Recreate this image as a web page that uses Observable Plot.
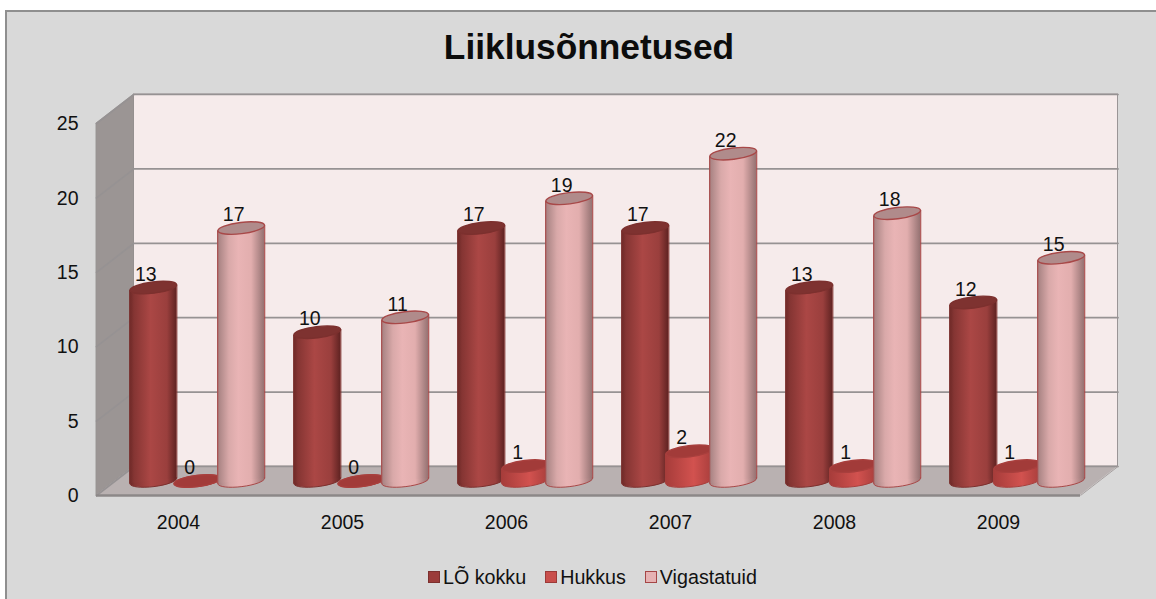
<!DOCTYPE html>
<html lang="et">
<head>
<meta charset="utf-8">
<script src="https://cdn.jsdelivr.net/npm/d3@7"></script>
<script src="https://cdn.jsdelivr.net/npm/@observablehq/plot@0.6"></script>
<style>
  html,body{margin:0;padding:0;background:#fff;width:1156px;height:599px;overflow:hidden;font-family:"Liberation Sans",Arial,sans-serif;color:#111}
  #frame{position:absolute;left:5px;top:10px;width:1151px;height:589px;background:#d9d9d9;border-left:2px solid #8f8f8f;border-top:2px solid #8f8f8f;box-sizing:border-box}
  #title{position:absolute;left:0;top:25px;width:1178px;text-align:center;font-size:35.3px;line-height:44px;font-weight:bold;color:#0c0c0c}
  #chart{position:absolute;left:0;top:70px}
  #legend{position:absolute;left:428px;top:566px;height:22px;display:flex;align-items:center;font-size:19.7px;white-space:nowrap}
  #legend i{display:inline-block;width:10px;height:10px;border:1px solid;margin-right:3px}
  #legend span{display:flex;align-items:center;margin-right:19px}
</style>
</head>
<body>
<div id="frame"></div>
<div id="title">Liiklusõnnetused</div>
<div id="chart"></div>
<div id="legend"></div>
<script>
const years = ["2004","2005","2006","2007","2008","2009"];
const seriesNames = ["LÕ kokku","Hukkus","Vigastatuid"];
const loKokku = [13,10,17,17,13,12];
const hukkus = [0,0,1,2,1,1];
const vigastatuid = [17,11,19,22,18,15];
const yTicks = [0,5,10,15,20,25];

const depthX = 0.2287, depthY = 1.95;     // 3D depth in scale units
const barOffset = [-0.268, 0, 0.268];
const halfW = 0.1433, tiltY = 0.19;
const looks = [
  {grad:"gA", top:"#7e3230", edge:"#7c302e", swatch:"#9b3c3a", sw:"#7c302e"},
  {grad:"gB", top:"#a23b39", edge:"#a83f3d", swatch:"#c94f4c", sw:"#9c3a38"},
  {grad:"gC", top:"#b08b8b", edge:"#a84848", swatch:"#e6b2b3", sw:"#a54646"}
];
const values = [loKokku, hukkus, vigastatuid];
const bars = values.map((vals, s) => vals.map((v, i) => ({
  s, v, year: years[i],
  cx: i + 0.5 + depthX / 2 + barOffset[s],
  base: depthY / 2
})));

function gradient(id, stops) {
  const g = d3.create("svg:linearGradient").attr("id", id);
  stops.forEach(([o, c]) => g.append("stop").attr("offset", o).attr("stop-color", c));
  return g.node();
}
const defs = () => {
  const d = d3.create("svg:defs");
  [["gA",[[0,"#6b2826"],[0.1,"#853533"],[0.45,"#ab4745"],[0.8,"#9a3f3d"],[1,"#602322"]]],
   ["gB",[[0,"#a63c3a"],[0.6,"#d2524f"],[1,"#a83e3c"]]],
   ["gC",[[0,"#a37f7f"],[0.25,"#d9a9a9"],[0.45,"#e9b4b5"],[0.72,"#e2aeae"],[1,"#957272"]]]
  ].forEach(([id, st]) => d.node().appendChild(gradient(id, st)));
  return d.node();
};

// tilted ellipse as a custom dot symbol, sized by the dot radius
const tiltedEllipse = {
  draw(ctx, size) {
    const rx = Math.sqrt(size / Math.PI), ry = rx * 0.24, a = -7 * Math.PI / 180, k = 0.5523;
    const ca = Math.cos(a), sa = Math.sin(a);
    const P = (x, y) => [x * ca - y * sa, x * sa + y * ca];
    const c = (a1, b1, a2, b2, a3, b3) => ctx.bezierCurveTo(...P(a1, b1), ...P(a2, b2), ...P(a3, b3));
    ctx.moveTo(...P(rx, 0));
    c(rx, k * ry, k * rx, ry, 0, ry);
    c(-k * rx, ry, -rx, k * ry, -rx, 0);
    c(-rx, -k * ry, -k * rx, -ry, 0, -ry);
    c(k * rx, -ry, rx, -k * ry, rx, 0);
    ctx.closePath();
  }
};

const radius = 23.5;
function cylinderMarks(rows, look) {
  const outline = rows.flatMap((d, i) => [
    {id: i, x: d.cx - halfW, y1: d.base - tiltY, y2: d.base + d.v - tiltY},
    {id: i, x: d.cx + halfW, y1: d.base + tiltY, y2: d.base + d.v + tiltY}
  ]);
  return [
    Plot.dot(rows, {x:"cx", y:"base", r:radius, symbol:tiltedEllipse, fill:`url(#${look.grad})`, stroke:look.edge, strokeWidth:1}),
    Plot.areaY(outline, {x:"x", y1:"y1", y2:"y2", z:"id", fill:`url(#${look.grad})`}),
    Plot.link(outline, {x1:"x", x2:"x", y1:"y1", y2:"y2", stroke:look.edge, strokeWidth:1.1}),
    Plot.dot(rows, {x:"cx", y:d => d.base + d.v, r:radius, symbol:tiltedEllipse, fill:look.top, stroke:look.edge, strokeWidth:1.4}),
    Plot.text(rows, {x:"cx", y:d => d.base + d.v, text:d => String(d.v), dx:-7.5, dy:-13, fontSize:19.5, fill:"#111"})
  ];
}

const gridLines = yTicks.flatMap(t => [
  {t, x:0, y:t}, {t, x:depthX, y:t + depthY}, {t, x:6 + depthX, y:t + depthY}
]);
const sideWall = [
  {x:0, y1:0, y2:25},
  {x:depthX, y1:depthY, y2:25 + depthY}
];
const floor = [
  {x:0, y1:0, y2:0},
  {x:depthX, y1:0, y2:depthY},
  {x:6, y1:0, y2:depthY},
  {x:6 + depthX, y1:depthY, y2:depthY}
];

const plot = Plot.plot({
  width:1156, height:490,
  marginTop:53, marginBottom:65, marginLeft:96, marginRight:76,
  style:{background:"transparent", fontFamily:"'Liberation Sans',Arial,sans-serif", fontSize:"19.5px", color:"#111"},
  x:{domain:[0,6]},
  y:{domain:[0,25]},
  marks:[
    defs,
    Plot.rect([0], {x1:depthX, x2:6 + depthX, y1:depthY, y2:25 + depthY, fill:"#f6ebeb", stroke:"#9a9596", strokeWidth:1}),
    Plot.areaY(sideWall, {x:"x", y1:"y1", y2:"y2", fill:"#9b9594", stroke:"#8f8a89", strokeWidth:0.5}),
    Plot.areaY(floor, {x:"x", y1:"y1", y2:"y2", fill:"#b9b1b1"}),
    Plot.line(gridLines, {x:"x", y:"y", z:"t", stroke:"#969293", strokeWidth:1.7}),
    Plot.ruleY([0], {x1:0, x2:6, stroke:"#8c8888", strokeWidth:2.5}),
    Plot.link([0], {x1:6, y1:0, x2:6 + depthX, y2:depthY, stroke:"#a8a1a1", strokeWidth:1}),
    Plot.axisY(yTicks, {anchor:"left", tickSize:0, tickPadding:18, label:null, fontSize:19.5, fill:"#111", dy:0.5}),
    Plot.axisX(years.map((_, i) => i + 0.5), {anchor:"bottom", tickSize:0, tickPadding:20, label:null, fontSize:19.5, fill:"#111", tickFormat:(d, i) => years[i]}),
    bars.map((rows, s) => cylinderMarks(rows, looks[s]))
  ]
});
document.getElementById("chart").appendChild(plot);

const legend = document.getElementById("legend");
seriesNames.forEach((name, s) => {
  const sp = document.createElement("span");
  const sw = document.createElement("i");
  sw.style.background = looks[s].swatch;
  sw.style.borderColor = looks[s].sw;
  sp.appendChild(sw);
  sp.appendChild(document.createTextNode(name));
  legend.appendChild(sp);
});
</script>
</body>
</html>
